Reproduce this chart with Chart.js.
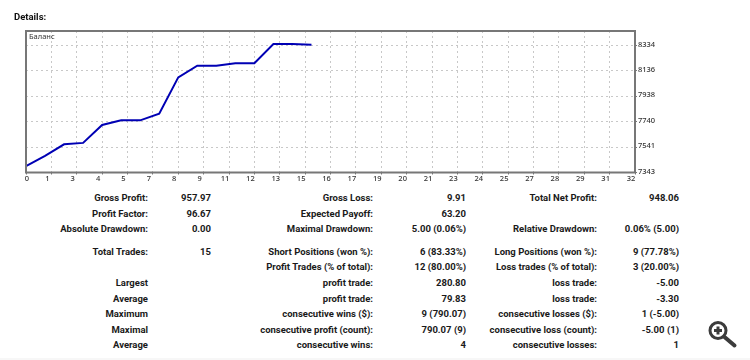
<!DOCTYPE html>
<html><head><meta charset="utf-8">
<style>
html,body{margin:0;padding:0;background:#fff;width:750px;height:360px;overflow:hidden}
#wrap{position:absolute;left:0;top:0;width:750px;height:190px}
#c{display:block}
.t{position:absolute;font:bold 9.5px Roboto,sans-serif;color:#1a1a1a;white-space:nowrap;line-height:12px;text-align:right}
#title{position:absolute;left:14px;top:11px;font:bold 9.5px/12px Roboto,sans-serif;color:#111}
#foot{position:absolute;left:0;top:358px;width:750px;height:2px;background:#f7f7f7}
#zoom{position:absolute;left:708px;top:320px}
</style></head><body>
<div id="wrap"><canvas id="c" width="750" height="190"></canvas></div>
<div id="title">Details:</div>
<div id="foot"></div>
<svg id="zoom" width="32" height="32" viewBox="0 0 32 32"><circle cx="10" cy="10.5" r="8" fill="#fff" stroke="#3c3c3c" stroke-width="3"/><path d="M16.5 17L26.5 25.5" stroke="#3c3c3c" stroke-width="4" stroke-linecap="round"/><path d="M10 6.5v8M6 10.5h8" stroke="#3c3c3c" stroke-width="3"/></svg>
<script src="https://cdn.jsdelivr.net/npm/chart.js@4/dist/chart.umd.min.js"></script>
<script>
const seriesName = "Баланс";
const trades = [0,1,2,3,4,5,6,7,8,9,10,11,12,13,14,15];
const balance = [7392,7473,7563,7574,7714,7750,7750,7802,8085,8176,8176,8196,8196,8345,8345,8340];
const yTicks = [7343,7541,7740,7938,8136,8334];
const xTickLabels = [0,1,3,4,5,7,8,9,11,12,13,15,16,17,19,20,21,23,24,25,27,28,29,31,32];
const rowTexts = [
 ["Gross Profit:","957.97","Gross Loss:","9.91","Total Net Profit:","948.06"],
 ["Profit Factor:","96.67","Expected Payoff:","63.20","",""],
 ["Absolute Drawdown:","0.00","Maximal Drawdown:","5.00 (0.06%)","Relative Drawdown:","0.06% (5.00)"],
 ["Total Trades:","15","Short Positions (won %):","6 (83.33%)","Long Positions (won %):","9 (77.78%)"],
 ["","","Profit Trades (% of total):","12 (80.00%)","Loss trades (% of total):","3 (20.00%)"],
 ["Largest","","profit trade:","280.80","loss trade:","-5.00"],
 ["Average","","profit trade:","79.83","loss trade:","-3.30"],
 ["Maximum","","consecutive wins ($):","9 (790.07)","consecutive losses ($):","1 (-5.00)"],
 ["Maximal","","consecutive profit (count):","790.07 (9)","consecutive loss (count):","-5.00 (1)"],
 ["Average","","consecutive wins:","4","consecutive losses:","1"]
];
const rowY = [198,214,229,252,267,283,299,314,330,345];
const colRight = [148,211,373,466,597,679];
rowTexts.forEach((row,r)=>row.forEach((s,c)=>{
  if(!s) return;
  const d=document.createElement('div');d.className='t';d.textContent=s;
  d.style.right=(750-colRight[c])+'px';d.style.top=(rowY[r]-6)+'px';
  document.body.appendChild(d);
}));
const xMax = 32, xStep = xMax/(xTickLabels.length-1);
const frame = {
  id:'frame',
  afterDatasetsDraw(ch){
    const a=ch.chartArea,g=ch.ctx;
    g.save();g.strokeStyle='#777';g.lineWidth=2;g.strokeRect(a.left,a.top,a.width,a.height);
    g.fillStyle='#333';g.font='7.5px "Noto Sans",sans-serif';g.textBaseline='top';g.fillText(seriesName,a.left+3,a.top+2);
    g.restore();
  }
};
new Chart(document.getElementById('c'),{
  type:'line',
  data:{datasets:[{label:seriesName,data:trades.map((t,i)=>({x:t,y:balance[i]})),borderColor:'#0000b4',borderWidth:2,pointRadius:0,tension:0,fill:false}]},
  options:{
    responsive:false,animation:false,
    layout:{padding:{left:26,top:31,right:0,bottom:0}},
    plugins:{legend:{display:false},tooltip:{enabled:false}},
    scales:{
      x:{type:'linear',min:0,max:xMax,
        afterBuildTicks:s=>{s.ticks=xTickLabels.map((v,i)=>({value:i*xStep}));},
        afterFit:s=>{s.height=17.5;},
        border:{display:false,dash:[2,3]},
        grid:{color:'#c8c8c8',tickLength:2,tickColor:'#777',lineWidth:1},
        ticks:{autoSkip:false,maxRotation:0,padding:0,labelOffset:-4,color:'#333',font:{family:'"Noto Sans"',size:7.5,weight:'500'},
          callback:(v,i)=>i===0?'     '+xTickLabels[i]:String(xTickLabels[i])}},
      y:{type:'linear',position:'right',min:7343,max:8447,
        afterBuildTicks:s=>{s.ticks=yTicks.map(v=>({value:v}));},
        afterFit:s=>{s.width=115;},
        border:{display:false,dash:[2,3]},
        grid:{color:'#c8c8c8',tickLength:2,tickColor:'#777',lineWidth:1},
        ticks:{padding:1,labelOffset:-1,color:'#333',font:{family:'"Noto Sans"',size:7.5,weight:'500'},callback:v=>String(v)}}
    }
  },
  plugins:[frame]
});
</script>
</body></html>
